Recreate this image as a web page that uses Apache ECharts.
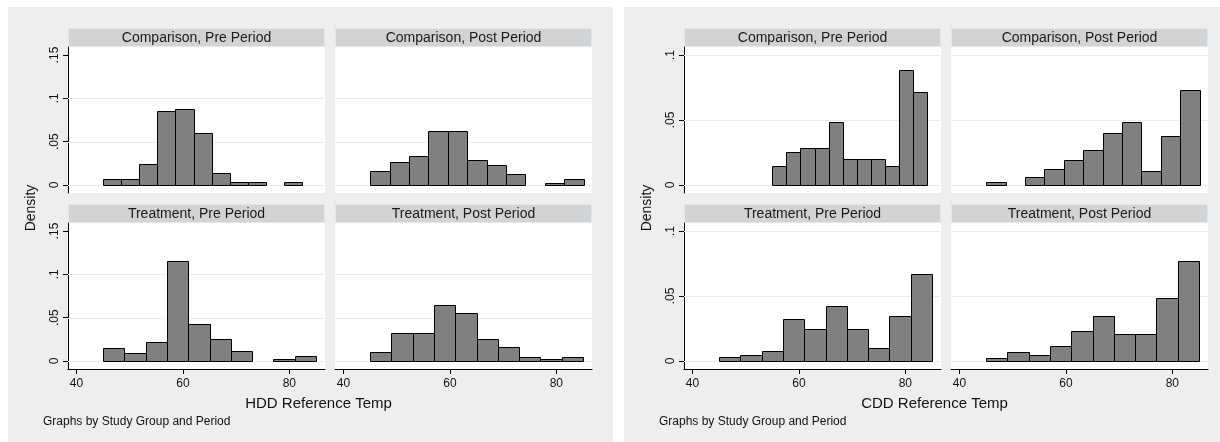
<!DOCTYPE html>
<html><head><meta charset="utf-8">
<script src="https://cdn.jsdelivr.net/npm/echarts@6/dist/echarts.min.js"></script>
<style>html,body{margin:0;padding:0;background:#fff}#c{width:1220px;height:442px}</style>
</head><body><div id="c"></div>
<script>
// ---------- data ----------
const panelTitles = ['Comparison, Pre Period', 'Comparison, Post Period', 'Treatment, Pre Period', 'Treatment, Post Period'];
const xTitles = ['HDD Reference Temp', 'CDD Reference Temp'];
const yTitle = 'Density';
const noteText = 'Graphs by Study Group and Period';
const xTicks = [40, 60, 80];
const hddYTicks = [0, 0.05, 0.1, 0.15];
const hddYLabels = ['0', '.05', '.1', '.15'];
const hddGridLines = [0, 0.05, 0.1];
const cddYTicks = [0, 0.05, 0.1];
const cddYLabels = ['0', '.05', '.1'];
const cddGridLines = [0, 0.05, 0.1];

// histogram bins: first bin start, bin width, densities
const hddCompPreStart = 45, hddCompPreWidth = 3.4;
const hddCompPre = [0.0066, 0.0066, 0.024, 0.085, 0.0878, 0.060, 0.0135, 0.0038, 0.0038, 0, 0.0038];
const hddCompPostStart = 45, hddCompPostWidth = 3.65;
const hddCompPost = [0.0162, 0.027, 0.0335, 0.0624, 0.0624, 0.029, 0.0227, 0.013, 0, 0.0023, 0.0066];
const hddTreatPreStart = 45, hddTreatPreWidth = 4;
const hddTreatPre = [0.0146, 0.0096, 0.0222, 0.1158, 0.0422, 0.025, 0.0119, 0, 0.0023, 0.0054];
const hddTreatPostStart = 45, hddTreatPostWidth = 4;
const hddTreatPost = [0.0107, 0.0322, 0.0322, 0.0648, 0.0556, 0.025, 0.0161, 0.0046, 0.0019, 0.0046];

const cddCompPreStart = 55, cddCompPreWidth = 2.645;
const cddCompPre = [0.0144, 0.0254, 0.0282, 0.0282, 0.0485, 0.0197, 0.0197, 0.0197, 0.0144, 0.0885, 0.0713];
const cddCompPostStart = 45, cddCompPostWidth = 3.65;
const cddCompPost = [0.002, 0, 0.0062, 0.0123, 0.019, 0.0269, 0.0397, 0.0482, 0.0105, 0.0377, 0.0733];
const cddTreatPreStart = 45, cddTreatPreWidth = 4;
const cddTreatPre = [0.0028, 0.0049, 0.0074, 0.0323, 0.0249, 0.042, 0.0249, 0.0097, 0.0346, 0.0669];
const cddTreatPostStart = 45, cddTreatPostWidth = 4;
const cddTreatPost = [0.002, 0.0069, 0.0044, 0.0118, 0.0231, 0.0346, 0.0205, 0.0205, 0.0487, 0.0767];

// ---------- layout ----------
const FONT = '"Liberation Sans", Arial, sans-serif';
const PW = 257, PH = 146;
const ROW_TOP = [47, 223];
const STRIP_H = 19;
const charts = [
  { panelX: 8, panelW: 605, colLeft: [68, 335], yMin: -0.0092, yMax: 0.1592, yTicks: hddYTicks, yLabels: hddYLabels, grid: hddGridLines, xTitle: xTitles[0],
    hists: [[hddCompPreStart, hddCompPreWidth, hddCompPre], [hddCompPostStart, hddCompPostWidth, hddCompPost], [hddTreatPreStart, hddTreatPreWidth, hddTreatPre], [hddTreatPostStart, hddTreatPostWidth, hddTreatPost]] },
  { panelX: 624, panelW: 596, colLeft: [684, 951], yMin: -0.00615, yMax: 0.10615, yTicks: cddYTicks, yLabels: cddYLabels, grid: cddGridLines, xTitle: xTitles[1],
    hists: [[cddCompPreStart, cddCompPreWidth, cddCompPre], [cddCompPostStart, cddCompPostWidth, cddCompPost], [cddTreatPreStart, cddTreatPreWidth, cddTreatPre], [cddTreatPostStart, cddTreatPostWidth, cddTreatPost]] }
];
const X_MIN = 38.4, X_MAX = 86.7;

const grids = [], xAxes = [], yAxes = [], series = [], graphics = [];

charts.forEach((ch, ci) => {
  graphics.push({ type: 'rect', z: -10, shape: { x: ch.panelX, y: 7, width: ch.panelW, height: 435 }, style: { fill: '#eeeeee' }, silent: true });
  ch.hists.forEach((h, pi) => {
    const row = pi < 2 ? 0 : 1, col = pi % 2;
    const gi = grids.length;
    const left = ch.colLeft[col], top = ROW_TOP[row];
    grids.push({ left: left, top: top, width: PW, height: PH, show: true, backgroundColor: '#ffffff', borderWidth: 0, containLabel: false });
    graphics.push({ type: 'rect', z: -5, shape: { x: left + 0.5, y: top - STRIP_H + 0.5, width: PW - 1, height: STRIP_H - 1 }, style: { fill: '#d3d3d3', stroke: '#dfe8ee', lineWidth: 1 }, silent: true });
    graphics.push({ type: 'text', z: 5, x: left + PW / 2, y: top - STRIP_H / 2 + 0.5, style: { text: panelTitles[pi], font: '14px ' + FONT, fill: '#1a1a1a', align: 'center', verticalAlign: 'middle' }, silent: true });
    const showX = row === 1, showY = col === 0;
    xAxes.push({
      gridIndex: gi, type: 'value', min: X_MIN, max: X_MAX, position: 'bottom',
      axisLine: { show: showX, onZero: false, lineStyle: { color: '#000', width: 1 } },
      axisTick: { show: showX, length: 5, inside: false, customValues: xTicks, lineStyle: { color: '#000' } },
      axisLabel: { show: showX, customValues: xTicks, margin: 9, color: '#111', fontSize: 12, fontFamily: FONT },
      splitLine: { show: false }
    });
    yAxes.push({
      gridIndex: gi, type: 'value', min: ch.yMin, max: ch.yMax,
      axisLine: { show: showY, onZero: false, lineStyle: { color: '#000', width: 1 } },
      axisTick: { show: showY, length: 5, customValues: ch.yTicks, lineStyle: { color: '#000' } },
      axisLabel: { show: showY, customValues: ch.yTicks, rotate: 90, margin: 7, color: '#111', fontSize: 12, fontFamily: FONT,
        formatter: v => { const k = ch.yTicks.findIndex(t => Math.abs(t - v) < 1e-9); return k >= 0 ? ch.yLabels[k] : ''; } },
      splitLine: { show: false }
    });
    // gridlines
    series.push({
      type: 'custom', xAxisIndex: gi, yAxisIndex: gi, z: 1, silent: true,
      data: ch.grid.map(v => [v]),
      renderItem: (params, api) => {
        const cs = params.coordSys;
        const p = api.coord([X_MIN, api.value(0)]);
        return { type: 'line', shape: { x1: cs.x, y1: Math.round(p[1]) + 0.5, x2: cs.x + cs.width, y2: Math.round(p[1]) + 0.5 }, style: { stroke: '#e9edef', lineWidth: 1 } };
      }
    });
    // histogram bars
    const [start, width, dens] = h;
    series.push({
      type: 'custom', xAxisIndex: gi, yAxisIndex: gi, z: 2, silent: true,
      data: dens.map((d, i) => [start + i * width, start + (i + 1) * width, d]),
      renderItem: (params, api) => {
        const d = api.value(2);
        if (!d) return null;
        const p0 = api.coord([api.value(0), d]);
        const p1 = api.coord([api.value(1), 0]);
        const x0 = Math.round(p0[0]) + 0.5, x1 = Math.round(p1[0]) + 0.5;
        const y0 = Math.round(p0[1]) + 0.5, y1 = Math.round(p1[1]) + 0.5;
        return { type: 'rect', shape: { x: x0, y: y0, width: x1 - x0, height: y1 - y0 }, style: { fill: '#808080', stroke: '#000', lineWidth: 1 } };
      }
    });
  });
  const axisX = ch.colLeft[0];
  graphics.push({ type: 'text', z: 5, x: axisX - 37, y: 208, rotation: Math.PI / 2, style: { text: yTitle, font: '14px ' + FONT, fill: '#111', align: 'center', verticalAlign: 'middle' }, silent: true });
  graphics.push({ type: 'text', z: 5, x: axisX + 250.5, y: 404, style: { text: ch.xTitle, font: '15px ' + FONT, fill: '#111', align: 'center', verticalAlign: 'middle' }, silent: true });
  graphics.push({ type: 'text', z: 5, x: ch.panelX + 35, y: 422, style: { text: noteText, font: '12px ' + FONT, fill: '#111', align: 'left', verticalAlign: 'middle' }, silent: true });
});

const chart = echarts.init(document.getElementById('c'), null, { renderer: 'canvas' });
chart.setOption({
  animation: false,
  backgroundColor: '#ffffff',
  grid: grids, xAxis: xAxes, yAxis: yAxes, series: series,
  graphic: { elements: graphics }
});
</script></body></html>
